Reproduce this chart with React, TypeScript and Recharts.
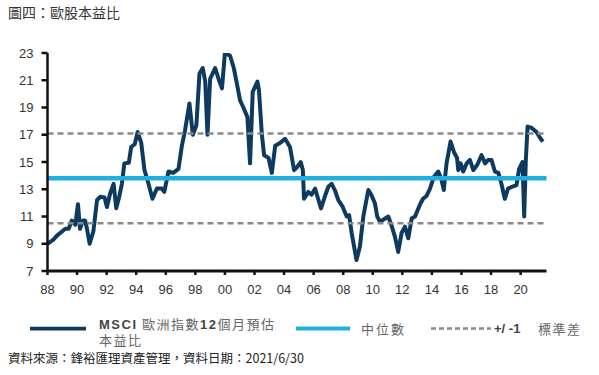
import React from 'react';
import { LineChart, Line, XAxis, YAxis, ReferenceLine } from 'recharts';

// MSCI Europe 12M forward P/E (year as decimal)
const years = [
  1988.0, 1988.4, 1988.64, 1988.98, 1989.2, 1989.43, 1989.65, 1989.88, 1990.06, 1990.2,
  1990.4, 1990.55, 1990.67, 1990.85, 1991.1, 1991.35, 1991.57, 1991.86, 1992.02, 1992.24,
  1992.47, 1992.65, 1992.85, 1993.03, 1993.2, 1993.5, 1993.66, 1993.9, 1994.1, 1994.34,
  1994.56, 1994.83, 1995.1, 1995.4, 1995.74, 1995.9, 1996.18, 1996.5, 1996.86, 1997.09,
  1997.3, 1997.6, 1997.83, 1998.07, 1998.28, 1998.5, 1998.67, 1998.82, 1999.0, 1999.34,
  1999.57, 1999.8, 2000.0, 2000.35, 2000.6, 2000.8, 2001.03, 2001.25, 2001.52, 2001.7,
  2001.88, 2002.2, 2002.3, 2002.5, 2002.65, 2002.95, 2003.17, 2003.4, 2003.73, 2004.07,
  2004.4, 2004.68, 2004.86, 2005.13, 2005.27, 2005.35, 2005.64, 2005.86, 2006.1, 2006.3,
  2006.5, 2006.8, 2007.0, 2007.22, 2007.45, 2007.67, 2007.97, 2008.24, 2008.4, 2008.57,
  2008.8, 2008.9, 2009.13, 2009.36, 2009.7, 2009.9, 2010.15, 2010.3, 2010.5, 2010.76,
  2011.05, 2011.28, 2011.5, 2011.72, 2011.95, 2012.18, 2012.4, 2012.63, 2012.86, 2013.2,
  2013.4, 2013.63, 2013.87, 2014.13, 2014.43, 2014.65, 2014.8, 2014.99, 2015.26, 2015.5,
  2015.7, 2015.78, 2015.94, 2016.12, 2016.35, 2016.57, 2016.8, 2017.07, 2017.36, 2017.6,
  2017.8, 2018.03, 2018.26, 2018.5, 2018.7, 2018.93, 2019.15, 2019.45, 2019.72, 2019.9,
  2020.13, 2020.24, 2020.35, 2020.47, 2020.75, 2021.07, 2021.3, 2021.5,
];
const pe = [
  9.0, 9.3, 9.6, 9.9, 10.1, 10.1, 10.7, 10.4, 11.9, 10.1,
  10.7, 10.7, 10.1, 9.0, 9.9, 12.2, 12.45, 12.4, 11.7, 12.7,
  13.4, 11.6, 12.45, 13.4, 14.9, 14.95, 16.1, 16.3, 17.2, 16.4,
  14.4, 13.4, 12.3, 13.05, 13.05, 12.8, 14.3, 14.2, 14.5, 16.2,
  17.3, 19.3, 17.0, 17.7, 21.5, 21.9, 20.9, 17.0, 21.1, 21.9,
  21.1, 20.4, 23.0, 22.8, 21.9, 20.8, 19.5, 19.0, 18.3, 14.9,
  20.15, 20.9, 20.3, 17.0, 15.5, 15.3, 14.2, 16.2, 16.4, 16.7,
  16.1, 14.4, 14.6, 15.0, 14.4, 12.3, 12.8, 12.6, 13.05, 12.3,
  11.6, 12.6, 13.2, 13.4, 12.9, 12.2, 11.7, 11.0, 11.1, 9.8,
  8.4, 7.8, 8.8, 11.0, 12.95, 12.6, 11.95, 11.0, 10.6, 10.8,
  11.0, 10.3, 9.5, 8.4, 9.8, 10.25, 9.4, 10.85, 11.0, 11.9,
  12.3, 12.5, 13.05, 13.9, 14.3, 13.7, 12.95, 14.9, 16.5, 15.7,
  15.3, 14.4, 14.9, 14.3, 14.9, 15.15, 14.4, 14.8, 15.5, 14.9,
  15.15, 15.15, 14.3, 14.2, 13.4, 12.3, 13.05, 13.2, 13.3, 14.5,
  15.0, 11.0, 15.1, 17.6, 17.5, 17.2, 16.8, 16.5,
];

const xTicks = [1988, 1990, 1992, 1994, 1996, 1998, 2000, 2002, 2004, 2006, 2008, 2010, 2012, 2014, 2016, 2018, 2020];
const yTicks = [7, 9, 11, 13, 15, 17, 19, 21, 23];
const median = 13.8;
const upperBand = 17.1;
const lowerBand = 10.5;

const data = years.map((t, i) => ({ t, pe: pe[i] }));

const NAVY = '#0e3a5f';
const CYAN = '#1eb0e0';
const GREY = '#8a8a8a';
const cjk = '"Noto Sans CJK TC", "Noto Sans", sans-serif';
const latin = '"Liberation Sans", Arial, sans-serif';

const tickStyle = { fontSize: 13, fill: '#333', fontFamily: latin };

export default function App() {
  return (
    <div style={{ position: 'absolute', left: 0, top: 0, width: 599, height: 375, background: '#fff', fontFamily: cjk }}>
      <div style={{ position: 'absolute', left: 8, top: 4, fontSize: 14, lineHeight: '16px', color: '#333' }}>
        圖四：歐股本益比
      </div>

      <div style={{ position: 'absolute', left: 0, top: 0 }}>
        <LineChart width={599} height={305} data={data} margin={{ top: 53, right: 52.5, bottom: 4, left: 0 }}>
          <XAxis
            dataKey="t"
            type="number"
            domain={[1988, 2021.75]}
            ticks={xTicks}
            interval={0}
            allowDataOverflow
            tickFormatter={(v: number) => String(v).slice(2)}
            tick={tickStyle}
            tickSize={4}
            tickMargin={10}
            height={30}
            axisLine={{ stroke: '#111', strokeWidth: 3 }}
            tickLine={{ stroke: '#111', strokeWidth: 2.5 }}
          />
          <YAxis
            type="number"
            domain={[7, 23]}
            ticks={yTicks}
            interval={0}
            allowDataOverflow
            tick={tickStyle}
            tickSize={6}
            tickMargin={8}
            width={47.5}
            axisLine={{ stroke: '#111', strokeWidth: 2.5 }}
            tickLine={{ stroke: '#111', strokeWidth: 2.5 }}
          />
          <Line
            type="linear"
            dataKey="pe"
            stroke={NAVY}
            strokeWidth={4}
            strokeLinejoin="round"
            dot={false}
            isAnimationActive={false}
          />
          <ReferenceLine y={upperBand} stroke={GREY} strokeWidth={2.5} strokeDasharray="6 4" />
          <ReferenceLine y={lowerBand} stroke={GREY} strokeWidth={2.5} strokeDasharray="6 4" />
          <ReferenceLine y={median} stroke={CYAN} strokeWidth={4.5} />
        </LineChart>
      </div>

      {/* legend */}
      <svg style={{ position: 'absolute', left: 0, top: 320 }} width={599} height={20}>
        <line x1={30} x2={86} y1={8.6} y2={8.6} stroke={NAVY} strokeWidth={3.8} />
        <line x1={296} x2={350} y1={8.6} y2={8.6} stroke={CYAN} strokeWidth={4} />
        <line x1={431} x2={491} y1={8.6} y2={8.6} stroke={GREY} strokeWidth={2.5} strokeDasharray="5 3" />
      </svg>
      <div style={{ position: 'absolute', left: 99, top: 315.5, fontSize: 13, lineHeight: '15.5px', letterSpacing: 1.5, color: '#666', whiteSpace: 'nowrap' }}>
        <b style={{ color: '#444', fontFamily: latin }}>MSCI</b> 歐洲指數<b style={{ color: '#444', fontFamily: latin }}>12</b>個月預估
        <br />
        本益比
      </div>
      <div style={{ position: 'absolute', left: 361, top: 321, fontSize: 13, lineHeight: '16px', letterSpacing: 2, color: '#666', whiteSpace: 'nowrap' }}>
        中位數
      </div>
      <div style={{ position: 'absolute', left: 494, top: 321, fontSize: 13, lineHeight: '16px', color: '#444', fontWeight: 'bold', fontFamily: latin, whiteSpace: 'nowrap' }}>
        +/ -1
      </div>
      <div style={{ position: 'absolute', left: 538, top: 321, fontSize: 13, lineHeight: '16px', letterSpacing: 1.5, color: '#666', whiteSpace: 'nowrap' }}>
        標準差
      </div>

      <div style={{ position: 'absolute', left: 8, top: 351, fontSize: 12.5, lineHeight: '14px', color: '#222', whiteSpace: 'nowrap' }}>
        資料來源：鋒裕匯理資產管理，資料日期：2021/6/30
      </div>
    </div>
  );
}
